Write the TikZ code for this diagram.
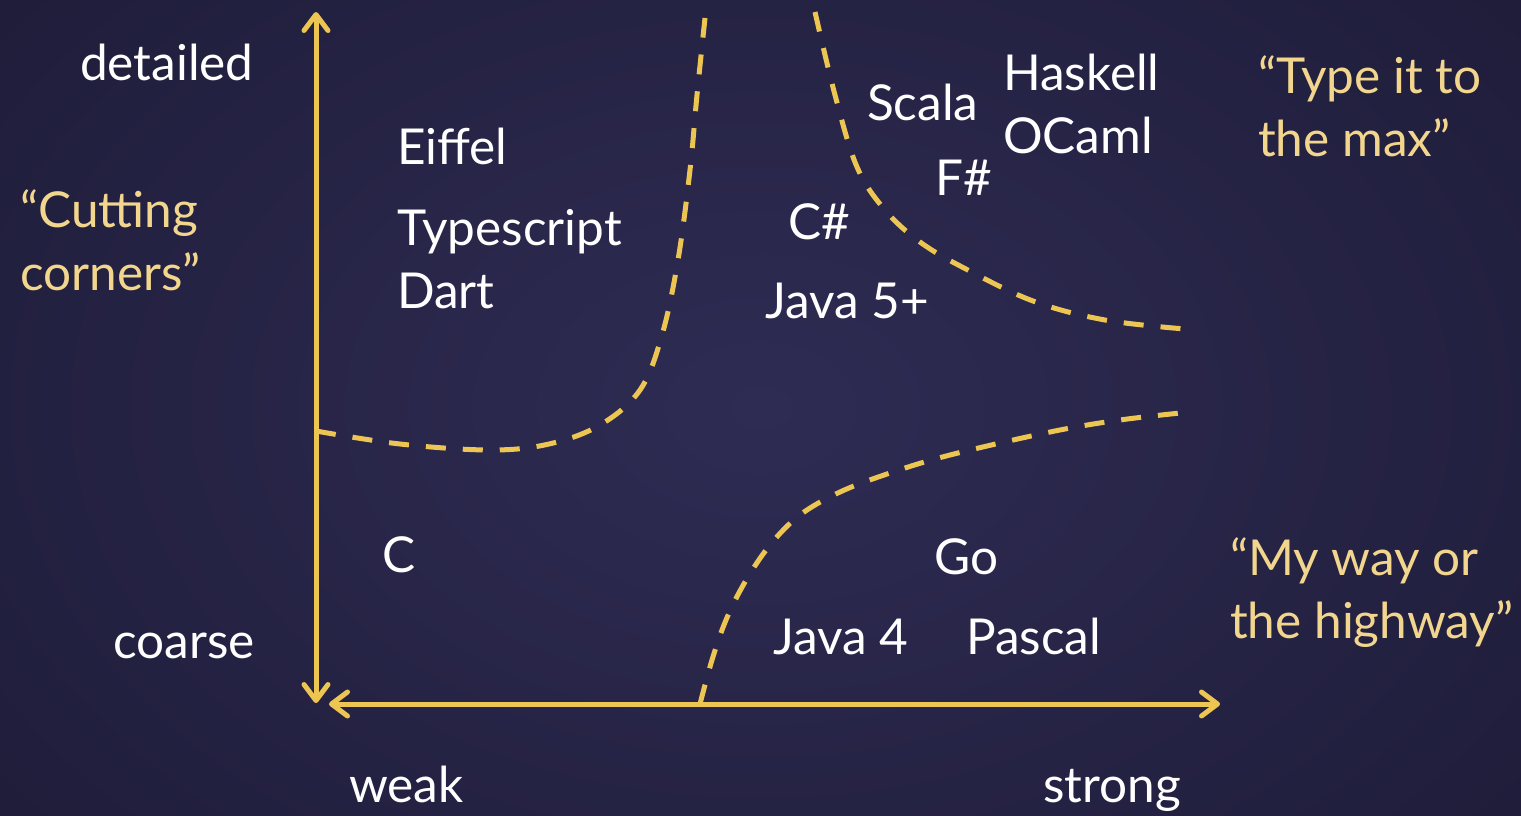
\documentclass[tikz,border=0pt]{standalone}
\usepackage{fontspec}
\setmainfont{Lato}
\usetikzlibrary{arrows.meta}
\definecolor{bgin}{HTML}{2F2C54}
\definecolor{bgout}{HTML}{1F1D3A}
\definecolor{axiscol}{HTML}{EDC552}
\definecolor{quotecol}{HTML}{F3D68E}
\tikzset{
  lbl/.style={anchor=base west, inner sep=0pt, text=white, font=\fontsize{49.5}{63}\selectfont},
  qlbl/.style={lbl, text=quotecol},
  axisline/.style={draw=axiscol, line width=5pt, line cap=round, line join=round,
    {Straight Barb[length=16pt,width=24pt,line cap=round,line join=round]}-{Straight Barb[length=16pt,width=24pt,line cap=round,line join=round]}},
  border/.style={draw=axiscol, line width=5pt, dash pattern=on 20pt off 17pt}
}
\begin{document}
\begin{tikzpicture}[x=1pt,y=-1pt]
\useasboundingbox (0,0) rectangle (1521,815);
\shade[inner color=bgin, outer color=bgout] (-200,-250) rectangle (1721,1065);
% axes
\coordinate (ytop) at (316,12);
\coordinate (ybot) at (316,703);
\coordinate (xleft) at (329,704);
\coordinate (xright) at (1220,704);
\draw[axisline] (ybot) -- (ytop);
\draw[axisline] (xleft) -- (xright);
% dashed borders
\draw[border] plot[smooth, tension=0.6] coordinates {(316,431) (400,444) (490,450) (549,444) (600,425) (640,390) (662,335) (678,260) (690,170) (697,95) (705,18)};
\draw[border] plot[smooth, tension=0.6] coordinates {(815,12) (835,95) (857,167) (885,210) (920,242) (964,268) (1033,301) (1105,320) (1185,329)};
\draw[border] plot[smooth, tension=0.6] coordinates {(700,704) (712,660) (726,620) (745,582) (770,545) (800,515) (840,492) (890,473) (950,455) (1050,432) (1120,420) (1190,412)};
% axis labels
\node[lbl] (detailed) at (80,80) {detailed};
\node[lbl] (coarse) at (113,658) {coarse};
\node[lbl] (weak) at (349,802) {weak};
\node[lbl] (strong) at (1043,802) {strong};
% languages
\node[lbl] (eiffel) at (397,164) {Eiffel};
\node[lbl] (ts) at (397,245) {Typescript};
\node[lbl] (dart) at (397,308) {Dart};
\node[lbl] (c) at (382,572) {C};
\node[lbl] (cs) at (788,239) {C\#};
\node[lbl] (java5) at (765,318) {Java 5+};
\node[lbl] (scala) at (867,120) {Scala};
\node[lbl] (haskell) at (1003,90) {Haskell};
\node[lbl] (ocaml) at (1003,153) {OCaml};
\node[lbl] (fs) at (935,195) {F\#};
\node[lbl] (go) at (934,574) {Go};
\node[lbl] (java4) at (773,654) {Java 4};
\node[lbl] (pascal) at (966,654) {Pascal};
% quotes
\node[qlbl] (q1a) at (1258,93) {“Type it to};
\node[qlbl] (q1b) at (1258,156) {the max”};
\node[qlbl] (q2a) at (20,227) {“Cutting};
\node[qlbl] (q2b) at (20,290) {corners”};
\node[qlbl] (q3a) at (1230,575) {“My way or};
\node[qlbl] (q3b) at (1230,638) {the highway”};
\end{tikzpicture}
\end{document}
